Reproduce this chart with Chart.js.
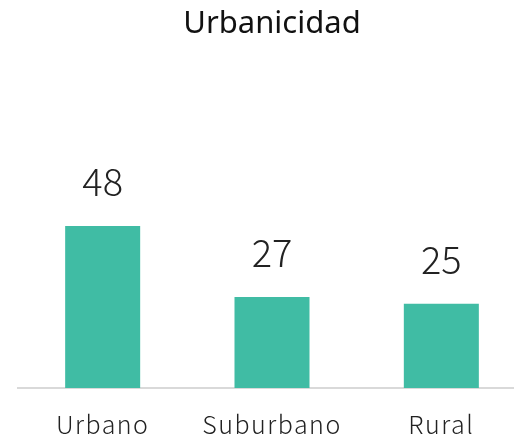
<!DOCTYPE html>
<html>
<head>
<meta charset="utf-8">
<script src="https://cdn.jsdelivr.net/npm/chart.js@4/dist/chart.umd.min.js"></script>
<style>
  html, body { margin: 0; padding: 0; background: #fff; overflow: hidden; }
  #wrap { width: 544px; height: 470px; position: relative; }
</style>
</head>
<body>
<div id="wrap"><canvas id="c" width="544" height="470"></canvas></div>
<script>
const categories = ["Urbano", "Suburbano", "Rural"];
const values = [48, 27, 25];
const chartTitle = "Urbanicidad";

const barLabels = {
  id: 'barLabels',
  afterDatasetsDraw(chart) {
    const ctx = chart.ctx;
    const meta = chart.getDatasetMeta(0);
    ctx.save();
    ctx.font = '300 38px "Noto Sans CJK JP"';
    ctx.fillStyle = '#222222';
    ctx.textAlign = 'center';
    ctx.textBaseline = 'alphabetic';
    meta.data.forEach((bar, i) => {
      ctx.fillText(String(values[i]), bar.x, bar.y - 30);
    });
    ctx.restore();
    chart.ctx.letterSpacing = '1.5px';
  },
  afterDraw(chart) {
    chart.ctx.letterSpacing = '0px';
  }
};

new Chart(document.getElementById('c'), {
  type: 'bar',
  data: {
    labels: categories,
    datasets: [{
      data: values,
      backgroundColor: '#40BCA4',
      borderWidth: 0,
      barPercentage: 0.443,
      categoryPercentage: 1.0
    }]
  },
  options: {
    responsive: false,
    animation: false,
    devicePixelRatio: 1,
    layout: { padding: { left: 18, right: 18, top: 0, bottom: 10 } },
    plugins: {
      legend: { display: false },
      tooltip: { enabled: false },
      title: {
        display: true,
        text: chartTitle,
        color: '#111111',
        font: { family: '"Noto Sans"', size: 31, weight: 'normal', lineHeight: 1.2 },
        padding: { top: 6, bottom: 142.3 }
      }
    },
    scales: {
      x: {
        grid: { display: false, drawTicks: false },
        border: { display: true, color: '#d9d9d9', width: 2 },
        ticks: {
          z: 1,
          color: '#222222',
          padding: 21,
          font: { family: '"Noto Sans CJK JP"', size: 25, weight: 300, lineHeight: 1.2 }
        }
      },
      y: {
        display: false,
        min: 0,
        max: 60
      }
    }
  },
  plugins: [barLabels]
});
</script>
</body>
</html>
